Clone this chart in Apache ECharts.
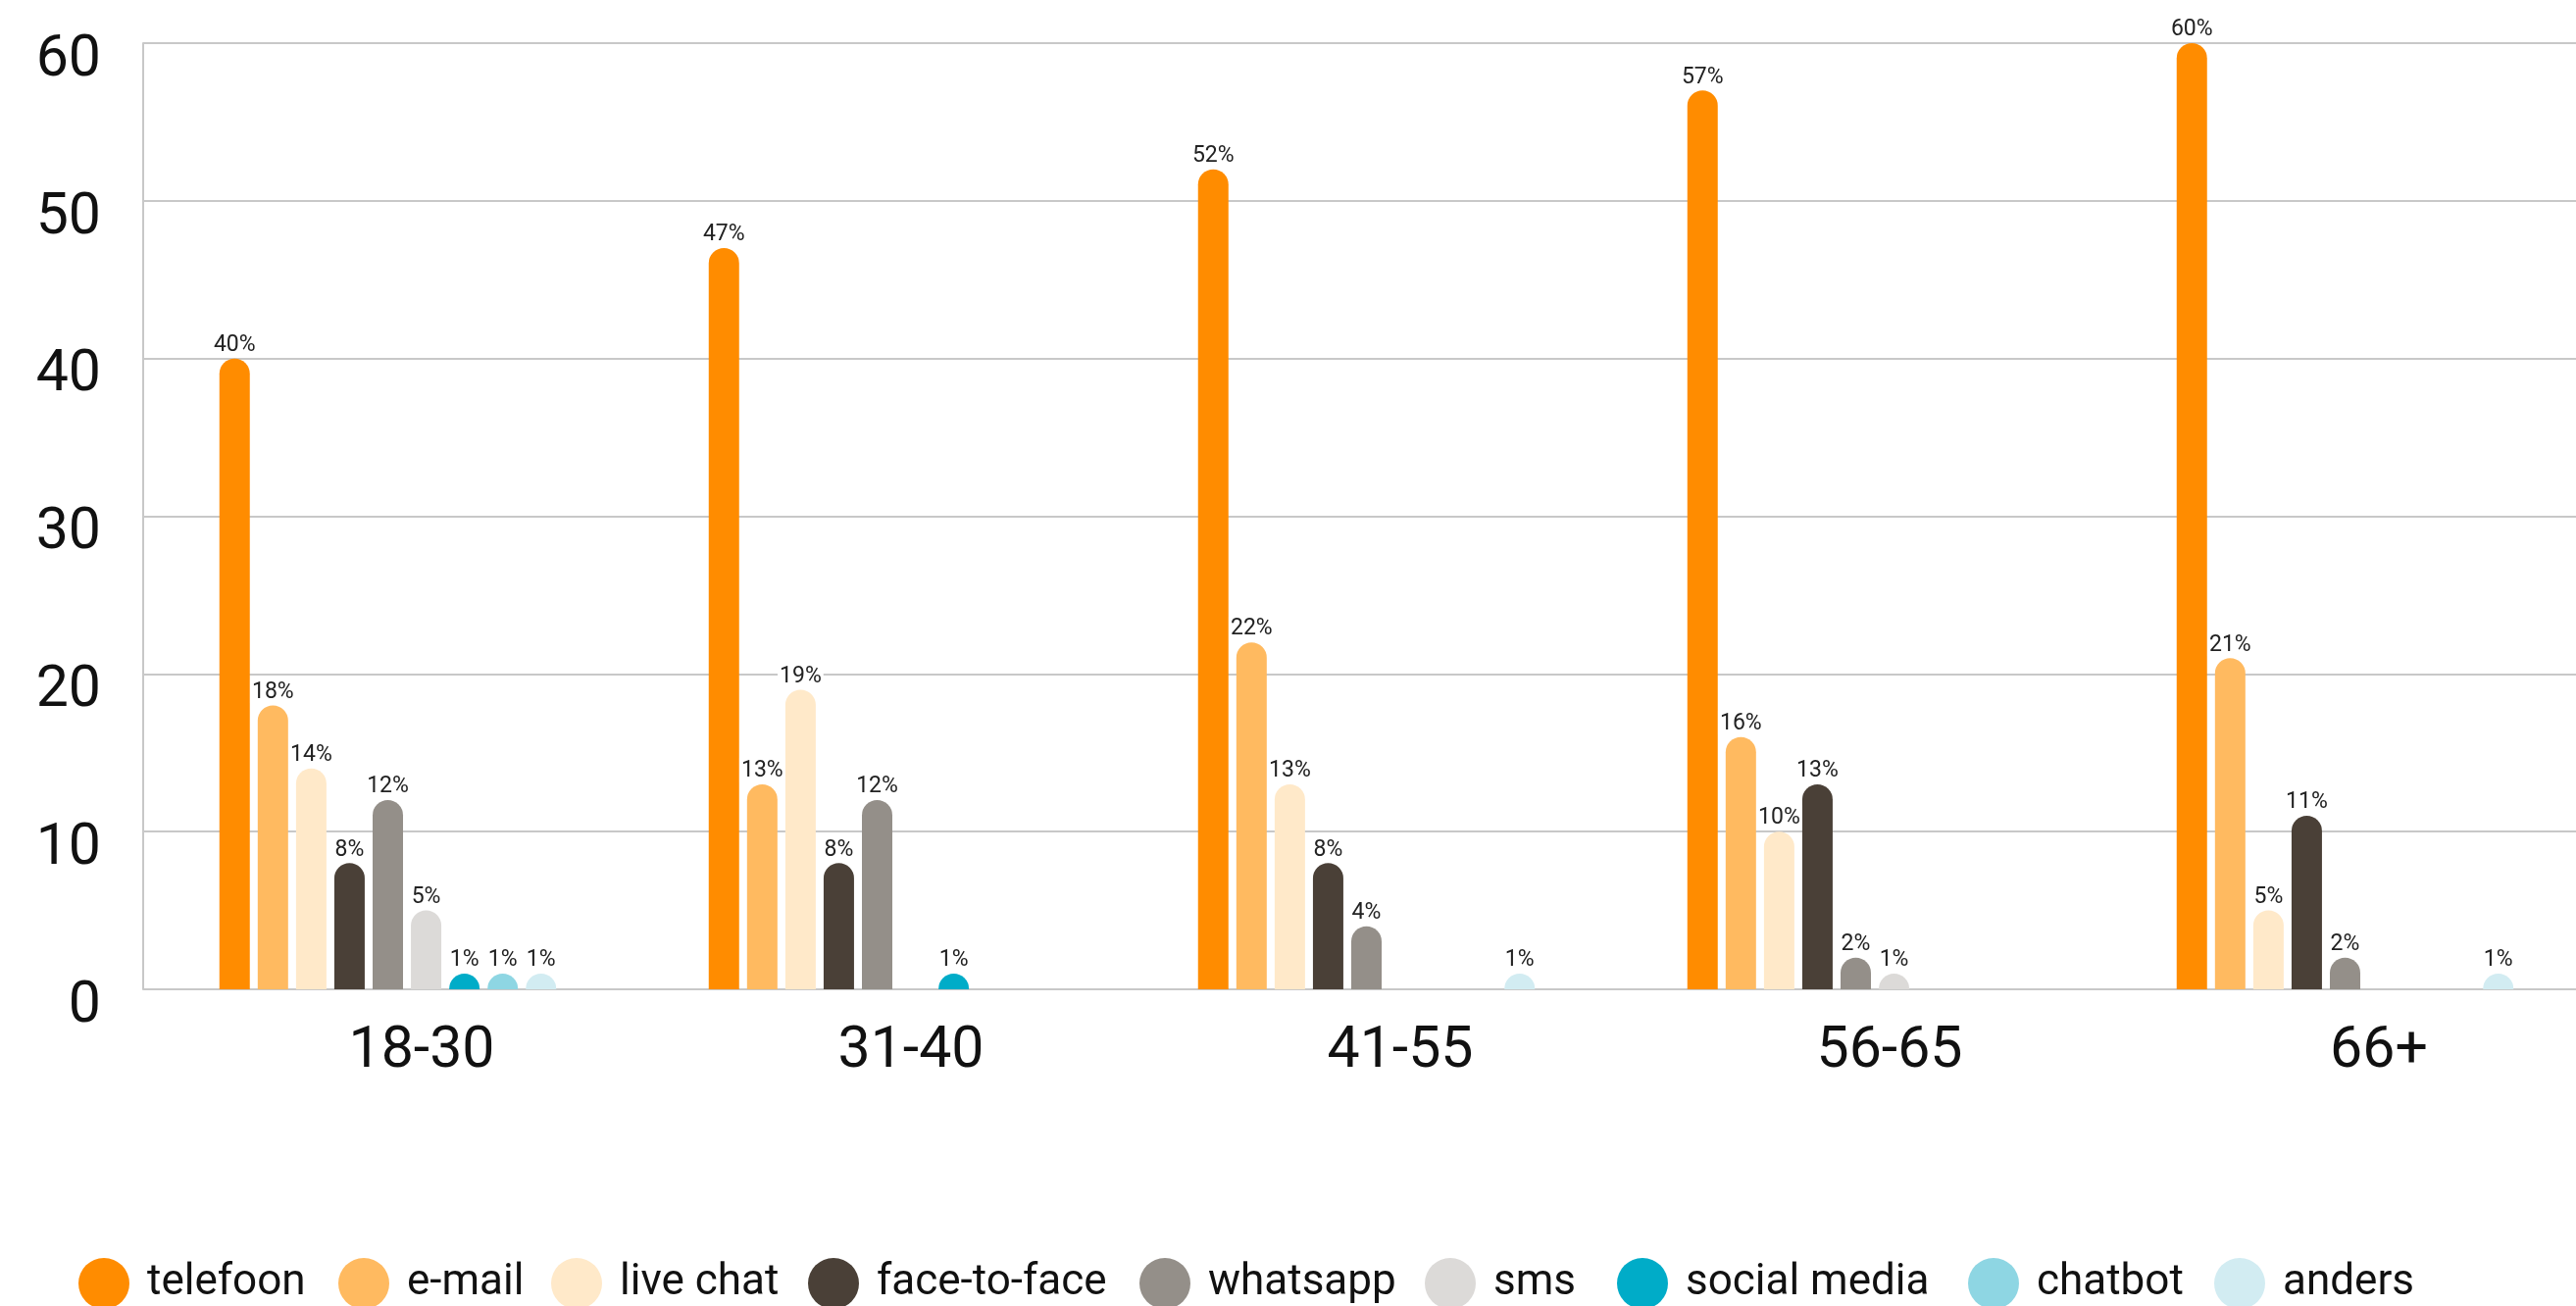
<!DOCTYPE html>
<html>
<head>
<meta charset="utf-8">
<style>
  html, body { margin: 0; padding: 0; background: #fff; }
  #chart { width: 2627px; height: 1332px; }
</style>
<script src="https://cdn.jsdelivr.net/npm/echarts@6/dist/echarts.min.js"></script>
</head>
<body>
<div id="chart"></div>
<script>
// Age groups on the category axis
const ageGroups = ['18-30', '31-40', '41-55', '56-65', '66+'];

// Channel names (legend order) and their colours
const channels = ['telefoon', 'e-mail', 'live chat', 'face-to-face', 'whatsapp', 'sms', 'social media', 'chatbot', 'anders'];
const channelColors = ['#FF8C00', '#FFBA60', '#FFE9C9', '#4A4037', '#948F89', '#DCDAD8', '#00ACC8', '#8ED6E3', '#D2ECF2'];

// Share per channel (%) for each age group; null = not reported
const telefoon    = [40, 47, 52, 57, 60];
const email       = [18, 13, 22, 16, 21];
const liveChat    = [14, 19, 13, 10, 5];
const faceToFace  = [8, 8, 8, 13, 11];
const whatsapp    = [12, 12, 4, 2, 2];
const sms         = [5, null, null, 1, null];
const socialMedia = [1, 1, null, null, null];
const chatbot     = [1, null, null, null, null];
const anders      = [1, null, 1, null, 1];

// Y axis range and step
const yMin = 0, yMax = 60, yStep = 10;

const seriesValues = [telefoon, email, liveChat, faceToFace, whatsapp, sms, socialMedia, chatbot, anders];

const FONT = 'Roboto, "Noto Sans", sans-serif';

// Left edge of each legend entry along the bottom row (px)
const legendLefts = [75, 340, 557, 819, 1157, 1448, 1644, 2002, 2253];

const chart = echarts.init(document.getElementById('chart'), null, { renderer: 'canvas' });

const barSeries = channels.map((name, i) => ({
  name: name,
  type: 'bar',
  data: seriesValues[i],
  barWidth: 31,
  barGap: '26%',
  itemStyle: { color: channelColors[i], borderRadius: [16, 16, 0, 0] },
  label: {
    show: true,
    position: 'top',
    distance: 2,
    formatter: (p) => p.value == null ? '' : p.value + '%',
    fontFamily: FONT,
    fontSize: 23,
    color: '#222',
    backgroundColor: '#fff',
    padding: [2, 2, 0, 2]
  },
  emphasis: { disabled: true }
}));

// One legend entry per channel, laid out in a single row
const legends = channels.map((name, i) => ({
  data: [name],
  left: legendLefts[i],
  top: 1278,
  icon: 'circle',
  itemWidth: 52,
  itemHeight: 52,
  selectedMode: false,
  textStyle: {
    fontFamily: FONT,
    fontSize: 44,
    color: '#111',
    padding: [0, 0, 0, 13]
  }
}));

chart.setOption({
  animation: false,
  backgroundColor: '#fff',
  legend: legends,
  grid: {
    left: 146,
    width: 2495,
    top: 44,
    bottom: 323,
    outerBoundsMode: 'none'
  },
  xAxis: {
    type: 'category',
    data: ageGroups,
    axisLine: { show: false },
    axisTick: { show: false },
    axisLabel: {
      fontFamily: FONT,
      fontSize: 59,
      color: '#111',
      margin: 35,
      padding: [0, 0, 0, 69]
    }
  },
  yAxis: {
    type: 'value',
    min: yMin,
    max: yMax,
    interval: yStep,
    axisLine: { show: true, lineStyle: { color: '#C8C8C8', width: 2 } },
    axisTick: { show: false },
    splitLine: { show: true, lineStyle: { color: '#C8C8C8', width: 2 } },
    axisLabel: {
      margin: 43,
      formatter: (v) => '{v|' + v + '}',
      rich: {
        v: {
          fontFamily: FONT,
          fontSize: 59,
          color: '#111',
          padding: [36, 0, 0, 0]
        }
      }
    }
  },
  series: barSeries
});
</script>
</body>
</html>
